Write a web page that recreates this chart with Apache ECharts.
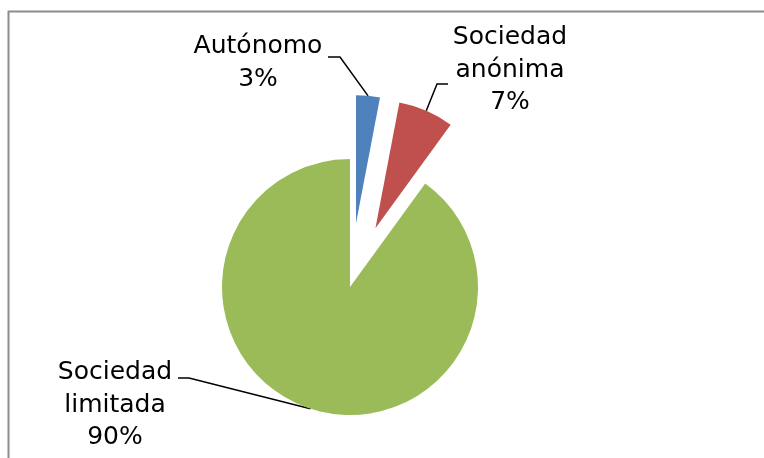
<!DOCTYPE html>
<html>
<head>
<meta charset="utf-8">
<script src="https://cdn.jsdelivr.net/npm/echarts@6/dist/echarts.min.js"></script>
<style>
  html, body { margin: 0; padding: 0; background: #fff; }
  #chart { width: 764px; height: 458px; }
</style>
</head>
<body>
<div id="chart"></div>
<script>
// datos del gráfico
const categories = ["Autónomo", "Sociedad anónima", "Sociedad limitada"];
const values = [3, 7, 90];
const colors = ["#4F81BD", "#C0504D", "#9BBB59"];
const exploded = [true, true, false];

// posición de las etiquetas (centro del bloque de texto) y codo de la línea guía
const labelPos = [[258, 63], [510, 70], [115, 405]];
const elbow = [
  [[328, 57], [340, 57]],
  [[448, 84], [437, 84]],
  [[178, 378], [189, 378]]
];

const center = [350, 287];
const radius = 128;
const explodeRatio = 0.5;

const chart = echarts.init(document.getElementById("chart"));

// desplazamiento de los sectores separados, según su ángulo medio
const total = values.reduce((a, b) => a + b, 0);
function sliceCenter(i) {
  if (!exploded[i]) return center;
  const before = values.slice(0, i).reduce((a, b) => a + b, 0);
  const mid = ((before + values[i] / 2) / total) * 2 * Math.PI;
  const d = radius * explodeRatio;
  return [center[0] + Math.sin(mid) * d, center[1] - Math.cos(mid) * d];
}

// una serie por sector visible, para poder separar cada uno
const series = categories.map((_, k) => ({
  type: "pie",
  center: sliceCenter(k),
  radius: radius,
  startAngle: 90,
  clockwise: true,
  silent: true,
  avoidLabelOverlap: false,
  data: categories.map((name, i) => ({
    name: name,
    value: values[i],
    itemStyle: { color: i === k ? colors[i] : "rgba(0,0,0,0)" },
    label: { show: i === k },
    labelLine: { show: i === k }
  })),
  label: {
    color: "#000",
    fontFamily: "DejaVu Sans",
    fontSize: 25,
    lineHeight: 32.5,
    align: "center",
    formatter: (p) => p.name.replace(" ", "\n") + "\n" + Math.round(p.percent) + "%"
  },
  labelLine: {
    length: 20,
    length2: 10,
    lineStyle: { color: "#000", width: 1.5 }
  },
  labelLayout: (params) => {
    const i = params.dataIndex;
    const start = params.labelLinePoints ? params.labelLinePoints[0] : elbow[i][1];
    return {
      x: labelPos[i][0],
      y: labelPos[i][1],
      align: "center",
      verticalAlign: "middle",
      labelLinePoints: [start, elbow[i][1], elbow[i][0]]
    };
  },
  emphasis: { disabled: true }
}));

chart.setOption({
  animation: false,
  backgroundColor: "#fff",
  graphic: [
    {
      type: "rect",
      shape: { x: 8.5, y: 11.5, width: 800, height: 500 },
      style: { fill: "none", stroke: "#8c8c8c", lineWidth: 2 }
    }
  ],
  series: series
});
</script>
</body>
</html>
